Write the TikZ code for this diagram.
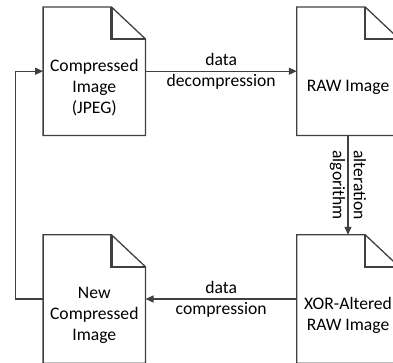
\documentclass[tikz,border=0pt]{standalone}
\usepackage{fontspec}
\setmainfont{Carlito}
\usetikzlibrary{arrows.meta}
\definecolor{linegray}{HTML}{404040}
\tikzset{
  docbox/.style={minimum width=102pt, minimum height=128pt, inner sep=0pt, draw=none},
  doctext/.style={align=center, font=\fontsize{17.6}{21}\selectfont, text=black},
  docline/.style={draw=linegray, line width=1.3pt},
  foldline/.style={draw=linegray, line width=2.2pt, line join=miter},
  conn/.style={draw=linegray, line width=1.3pt, -{Triangle[length=8pt,width=7pt]}},
  connlabel/.style={align=center, font=\fontsize{17.6}{21}\selectfont, text=black, inner sep=0pt}
}
\newcommand\drawdoc[1]{%
  \draw[docline] (#1.north west) -- ([xshift=-34pt]#1.north east) -- ([yshift=-32pt]#1.north east) -- (#1.south east) -- (#1.south west) -- cycle;
  \draw[foldline] ([xshift=-34pt]#1.north east) |- ([yshift=-32pt]#1.north east);}
\begin{document}
\begin{tikzpicture}[x=1pt,y=-1pt]
\useasboundingbox (0,0) rectangle (393,362);
\node[docbox, label={[doctext, yshift=-16pt]center:Compressed\\Image\\(JPEG)}] (tl) at (94.3,71.2) {};
\node[docbox, label={[doctext, yshift=-16pt]center:RAW Image}] (tr) at (348,71.2) {};
\node[docbox, label={[doctext, yshift=-16pt]center:New\\Compressed\\Image}] (bl) at (94.3,299) {};
\node[docbox, label={[doctext, yshift=-16pt]center:XOR-Altered\\RAW Image}] (br) at (348,299) {};
\drawdoc{tl}
\drawdoc{tr}
\drawdoc{bl}
\drawdoc{br}
\draw[conn] (tl.east) -- node[connlabel] (l1) {data\\decompression} (tr.west);
\draw[conn] (tr.south) -- node[connlabel, rotate=-90] (l2) {alteration\\algorithm} (br.north);
\draw[conn] (br.west) -- node[connlabel] (l3) {data\\compression} (bl.east);
\draw[conn] (bl.west) -- ++(-27.6,0) |- (tl.west);
\end{tikzpicture}
\end{document}
